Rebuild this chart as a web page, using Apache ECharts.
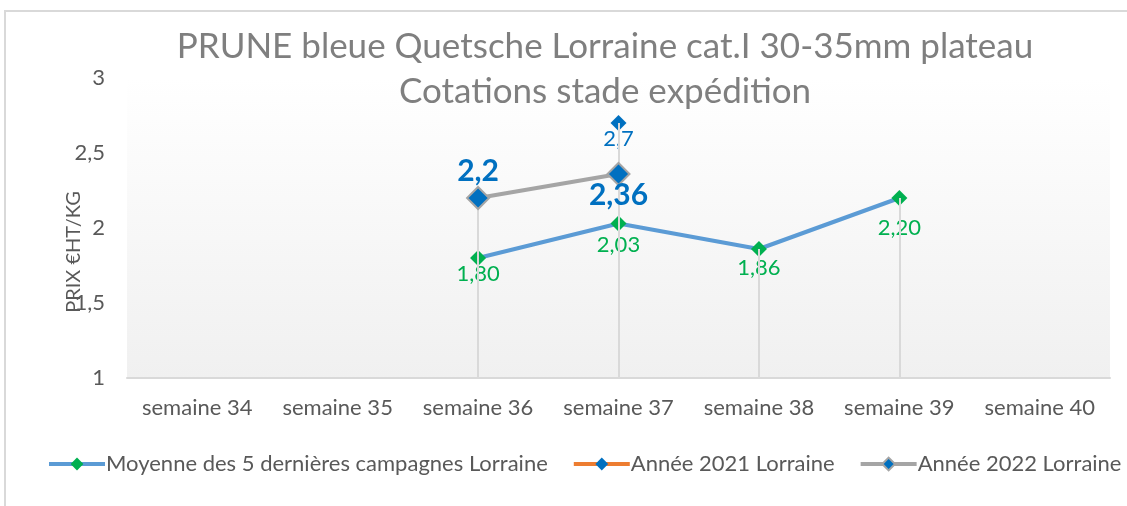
<!DOCTYPE html>
<html>
<head>
<meta charset="utf-8">
<script src="https://cdn.jsdelivr.net/npm/echarts@6/dist/echarts.min.js"></script>
<style>html,body{margin:0;padding:0;background:#fff;}#c{width:1127px;height:506px;}</style>
</head>
<body>
<div id="c"></div>
<script>
const categories = ['semaine 34','semaine 35','semaine 36','semaine 37','semaine 38','semaine 39','semaine 40'];
const moyenne = [null, null, 1.80, 2.03, 1.86, 2.20, null];
const annee2021 = [null, null, null, 2.7, null, null, null];
const annee2022 = [null, null, 2.2, 2.36, null, null, null];
const seriesNames = ['Moyenne des 5 dernières campagnes Lorraine','Année 2021 Lorraine','Année 2022 Lorraine'];
const yTicks = [1, 1.5, 2, 2.5, 3];

const FONT = 'Lato, "Open Sans", sans-serif';
const fmt = v => String(v).replace('.', ',');
const DIAMOND = 'path://M0,-1L1,0L0,1L-1,0Z';
// per-point label offsets (layout only)
const moyLabelDist = [0, 0, -3, 2, 0, 11, 0];

const yMin = yTicks[0];
const dropLines = [];
categories.forEach((c, i) => {
  const vals = [moyenne[i], annee2021[i], annee2022[i]].filter(v => v != null);
  if (vals.length) {
    dropLines.push([{coord: [c, Math.max(...vals)]}, {coord: [c, yMin]}]);
  }
});

const chart = echarts.init(document.getElementById('c'));
chart.setOption({
  animation: false,
  backgroundColor: '#fff',
  graphic: [{
    type: 'rect', shape: {x: 5, y: 11, width: 1300, height: 700},
    style: {fill: 'none', stroke: '#d9d9d9', lineWidth: 2}, z: -1
  }, {
    type: 'text', x: 74, y: 252, rotation: Math.PI / 2,
    style: {text: 'PRIX €HT/KG', fontFamily: FONT, fontSize: 20, fill: '#595959',
      align: 'center', verticalAlign: 'middle'}, z: 10
  }],
  title: {
    text: 'PRUNE bleue Quetsche Lorraine cat.I 30-35mm plateau\nCotations stade expédition',
    left: 600, textAlign: 'center', top: 19,
    textStyle: {fontFamily: FONT, fontSize: 35, fontWeight: 'normal', color: '#7f7f7f', lineHeight: 45}
  },
  legend: {
    bottom: 26, left: 42,
    itemWidth: 56, itemHeight: 16, itemGap: 24,
    textStyle: {fontFamily: FONT, fontSize: 22, color: '#595959', padding: [0,0,0,-4]},
    data: [
      {name: seriesNames[0], lineStyle: {width: 4, color: '#5B9BD5'}},
      {name: seriesNames[1], lineStyle: {width: 4, color: '#ED7D31'}},
      {name: seriesNames[2], lineStyle: {width: 4, color: '#A5A5A5'}}
    ]
  },
  grid: {
    left: 127, right: 17, top: 78, height: 300,
    show: true, borderWidth: 0,
    backgroundColor: new echarts.graphic.LinearGradient(0, 0, 0, 1, [
      {offset: 0, color: '#ffffff'}, {offset: 1, color: '#f0f0f0'}
    ])
  },
  xAxis: {
    type: 'category', data: categories, boundaryGap: true,
    axisLine: {lineStyle: {color: '#d9d9d9', width: 2}},
    axisTick: {show: false},
    axisLabel: {fontFamily: FONT, fontSize: 22, color: '#595959', margin: 19, interval: 0}
  },
  yAxis: {
    type: 'value', min: yTicks[0], max: yTicks[yTicks.length-1], interval: 0.5,
    axisLine: {show: false}, axisTick: {show: false}, splitLine: {show: false},
    axisLabel: {fontFamily: FONT, fontSize: 22, color: '#595959', margin: 22, formatter: v => fmt(v)}
  },
  series: [
    {
      name: 'drop', type: 'line', data: [], silent: true,
      markLine: {symbol: 'none', silent: true, label: {show: false},
        lineStyle: {color: '#d9d9d9', width: 2, type: 'solid'}, data: dropLines}
    },
    {
      name: seriesNames[0], type: 'line', connectNulls: false,
      symbol: DIAMOND, symbolSize: 16,
      lineStyle: {color: '#5B9BD5', width: 4},
      itemStyle: {color: '#00B050'},
      label: {show: true, position: 'bottom', formatter: p => p.value.toFixed(2).replace('.', ','),
        fontFamily: FONT, fontSize: 22, color: '#00B050'},
      data: moyenne.map((v, i) => v == null ? null : {value: v, label: {distance: moyLabelDist[i]}}),
      z: 3
    },
    {
      name: seriesNames[1], type: 'line', data: annee2021,
      symbol: DIAMOND, symbolSize: 16,
      lineStyle: {color: '#ED7D31', width: 4},
      itemStyle: {color: '#0070C0'},
      label: {show: true, position: 'bottom', distance: -3, formatter: p => fmt(p.value),
        fontFamily: FONT, fontSize: 22, color: '#0070C0'},
      z: 4
    },
    {
      name: seriesNames[2], type: 'line',
      symbol: DIAMOND, symbolSize: 22,
      lineStyle: {color: '#A5A5A5', width: 4},
      itemStyle: {color: '#0070C0', borderColor: '#A5A5A5', borderWidth: 2},
      label: {show: true, fontFamily: FONT, fontSize: 30, fontWeight: 'bold', color: '#0070C0',
        formatter: p => fmt(p.value)},
      data: annee2022.map((v, i) => v == null ? null : {value: v,
        label: {position: i === 2 ? 'top' : 'bottom', distance: i === 2 ? 0 : -6}}),
      z: 5
    }
  ]
});
</script>
</body>
</html>
